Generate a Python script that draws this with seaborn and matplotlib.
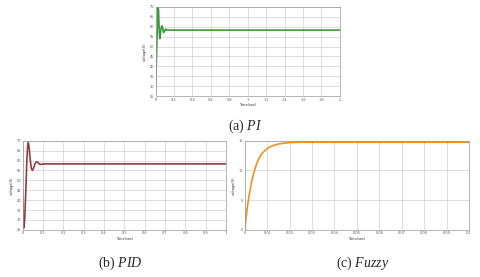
import numpy as np
import pandas as pd
import seaborn as sns
import matplotlib
matplotlib.use("Agg")
import matplotlib.pyplot as plt

# (a) PI controller response
pi_t = [0, 0.008, 0.016, 0.022, 0.026, 0.029, 0.033, 0.038, 0.043, 0.047, 0.052, 0.058,
        0.065, 0.072, 0.079, 0.085, 0.09, 0.096, 0.103, 0.11, 0.118, 0.13, 2.0]
pi_v = [30, 40, 54, 64, 68.5, 70, 68, 61, 55.5, 54, 55.5, 58.5,
        60.2, 60.4, 59, 57.5, 57.1, 57.6, 58.5, 58.8, 58.4, 58.3, 58.3]

# (b) PID controller response
pid_t = [0, 0.004, 0.007, 0.011, 0.016, 0.021, 0.025, 0.028, 0.032, 0.037, 0.043, 0.049,
         0.055, 0.062, 0.069, 0.076, 0.083, 0.09, 0.1, 1.0]
pid_v = [45, 29, 26, 31, 45, 60, 67.5, 69, 67, 61, 56, 55,
         56.5, 58.5, 59.4, 59.0, 58.2, 58.0, 58.3, 58.3]

# (c) Fuzzy controller response
fz_t = [0, 0.001, 0.002, 0.003, 0.004, 0.005, 0.006, 0.007, 0.008, 0.01, 0.012, 0.015,
        0.018, 0.02, 0.025, 0.03, 0.1]
fz_v = [0, 3.5, 6.0, 8.0, 9.6, 10.8, 11.8, 12.5, 13.0, 13.7, 14.1, 14.45,
        14.6, 14.7, 14.75, 14.75, 14.75]

ab_yticks = [25, 30, 35, 40, 45, 50, 55, 60, 65, 70]

sns.set_style("whitegrid")
plt.rcParams["mathtext.fontset"] = "custom"
plt.rcParams["mathtext.it"] = "Liberation Serif:italic"
plt.rcParams["mathtext.rm"] = "Liberation Serif"

fig = plt.figure(figsize=(4.8, 2.77), dpi=100)
ax_a = fig.add_axes([0.324, 0.653, 0.384, 0.322])
ax_b = fig.add_axes([0.047, 0.170, 0.424, 0.322])
ax_c = fig.add_axes([0.510, 0.170, 0.467, 0.322])

panels = [
    (ax_a, pi_t, pi_v, "#3a9a3a", (0, 2), np.arange(0, 2.01, 0.2), (25, 70), ab_yticks),
    (ax_b, pid_t, pid_v, "#8e3f3f", (0, 1), np.arange(0, 1.01, 0.1), (25, 70), ab_yticks),
    (ax_c, fz_t, fz_v, "#f0901e", (0, 0.1), np.arange(0, 0.101, 0.01), (0, 15), [0, 5, 10, 15]),
]

for ax, t, v, col, xl, xt, yl, yt in panels:
    df = pd.DataFrame({"t": t, "v": v})
    sns.lineplot(data=df, x="t", y="v", ax=ax, color=col, linewidth=1.2)
    ax.set_xlim(*xl)
    ax.set_ylim(*yl)
    ax.set_xticks(xt)
    ax.set_yticks(yt)
    ax.set_xticklabels([f"{x:g}" for x in np.round(xt, 2)])
    ax.tick_params(labelsize=2.5, pad=1, length=0, labelcolor="#555555")
    ax.grid(color="#d0d0d0", linewidth=0.5)
    for s in ax.spines.values():
        s.set_color("#999999")
        s.set_linewidth(0.5)
    ax.set_xlabel("Time(sec)", fontsize=2.5, labelpad=1)
    ax.set_ylabel("voltage(V)", fontsize=2.5, labelpad=2)

fig.text(0.51, 0.545, "(a) $\\mathit{PI}$", ha="center", va="center", fontsize=10,
         family="Liberation Serif")
fig.text(0.25, 0.05, "(b) $\\mathit{PID}$", ha="center", va="center", fontsize=10,
         family="Liberation Serif")
fig.text(0.755, 0.05, "(c) $\\mathit{Fuzzy}$", ha="center", va="center", fontsize=10,
         family="Liberation Serif")

fig.savefig("out.png", dpi=100)
